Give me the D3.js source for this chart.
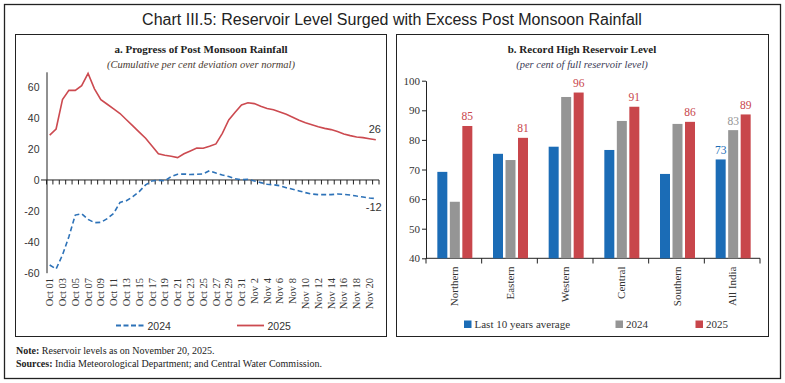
<!DOCTYPE html>
<html><head><meta charset="utf-8">
<script src="https://cdn.jsdelivr.net/npm/d3@7"></script>
<style>body{margin:0;background:#fff}svg{display:block}</style>
</head><body><svg id="c" width="785" height="383"></svg>
<script>
// ---------- Data ----------
const dates = ["Oct 01","Oct 02","Oct 03","Oct 04","Oct 05","Oct 06","Oct 07","Oct 08","Oct 09","Oct 10",
  "Oct 11","Oct 12","Oct 13","Oct 14","Oct 15","Oct 16","Oct 17","Oct 18","Oct 19","Oct 20",
  "Oct 21","Oct 22","Oct 23","Oct 24","Oct 25","Oct 26","Oct 27","Oct 28","Oct 29","Oct 30","Oct 31",
  "Nov 1","Nov 2","Nov 3","Nov 4","Nov 5","Nov 6","Nov 7","Nov 8","Nov 9","Nov 10",
  "Nov 11","Nov 12","Nov 13","Nov 14","Nov 15","Nov 16","Nov 17","Nov 18","Nov 19","Nov 20","Nov 21"];
const rain2024 = [-55,-57.6,-48.5,-36.7,-22.7,-21.8,-25.5,-27.6,-27.4,-25,
  -21.6,-14.5,-13.4,-10.8,-7.5,-3.2,-0.6,-0.2,-0.6,2.2,
  3.7,3.9,3.5,3.7,3.9,6.0,4.5,3.2,2.2,0.8,0.2,
  0.4,-0.6,-1.7,-2.8,-3.1,-3.7,-5,-6,-7.1,-8.2,
  -9.1,-9.5,-9.5,-9.5,-9.1,-9.3,-9.7,-10.4,-11,-11.7,-12];
const rain2025 = [29,33,52,58,58,61,69,59,52,49,
  46,43,39,35,31,27,22,17,16,15.3,
  14.5,17,18.8,20.7,20.5,21.8,23.3,30.2,38.8,43.8,48.5,
  50,49.4,47.7,46.2,45.5,44,42.5,40.6,38.6,37.1,
  35.8,34.5,33.4,32.6,31.3,29.8,28.7,27.8,27.4,26.7,26];
const leftTicks = [-60,-40,-20,0,20,40,60];

const regions = ["Northern","Eastern","Western","Central","Southern","All India"];
const seriesNames = ["Last 10 years average","2024","2025"];
const avg10 = [69.2,75.3,77.7,76.6,68.5,73.4];
const res2024 = [59.1,73.2,94.5,86.4,85.4,83.3];
const res2025 = [84.7,80.7,96.0,91.2,86.1,88.6];
const rightTicks = [40,50,60,70,80,90,100];

// ---------- Styles ----------
const BLUE = "#1b6cb6", GRAY = "#959595", RED = "#c8464b";
const LBLUE = "#2d72b8", LRED = "#cc4a50";
const SERIF = "'Liberation Serif', 'Times New Roman', serif";
const SANS = "'Liberation Sans', Arial, sans-serif";
const NARROW = "'Liberation Sans Narrow', 'Liberation Sans', sans-serif";
const fmt = d => String(Math.round(d));

const svg = d3.select("#c");
svg.append("rect").attr("width",785).attr("height",383).attr("fill","#fff");
// frames
svg.append("rect").attr("x",4.5).attr("y",4.5).attr("width",776).attr("height",374)
  .attr("fill","none").attr("stroke","#222").attr("stroke-width",1.3);
svg.append("rect").attr("x",15.5).attr("y",34.5).attr("width",371).attr("height",302)
  .attr("fill","none").attr("stroke","#222").attr("stroke-width",1);
svg.append("rect").attr("x",396.5).attr("y",34.5).attr("width",372).attr("height",302)
  .attr("fill","none").attr("stroke","#222").attr("stroke-width",1);

svg.append("text").attr("x",392).attr("y",25).attr("text-anchor","middle")
  .attr("font-family",NARROW).attr("font-size",16).attr("fill","#222")
  .text("Chart III.5: Reservoir Level Surged with Excess Post Monsoon Rainfall");

// ---------- Left panel ----------
const L = svg.append("g");
L.append("text").attr("x",201).attr("y",53).attr("text-anchor","middle")
  .attr("font-family",SERIF).attr("font-weight","bold").attr("font-size",11).attr("fill","#222")
  .text("a. Progress of Post Monsoon Rainfall");
L.append("text").attr("x",201).attr("y",67.5).attr("text-anchor","middle")
  .attr("font-family",SERIF).attr("font-style","italic").attr("font-size",10.5).attr("fill","#4a3a30")
  .text("(Cumulative per cent deviation over normal)");

const xL = d3.scaleBand().domain(dates).range([46.5,379]).padding(0);
const yL = d3.scaleLinear().domain([-60,70]).range([272.7,71.8]);
const bw = xL.bandwidth();

const yAxL = L.append("g").attr("transform","translate(46.5,0)")
  .call(d3.axisLeft(yL).tickValues(leftTicks).tickSize(0).tickPadding(7).tickFormat(fmt));
yAxL.select(".domain").attr("stroke","#222");
yAxL.selectAll("text").attr("font-family",SANS).attr("font-size",10.5).attr("fill","#333");

// x axis at zero
const y0 = yL(0);
L.append("line").attr("x1",41).attr("x2",379).attr("y1",y0).attr("y2",y0).attr("stroke","#222");
L.append("g").selectAll("line").data(dates.concat(["end"])).join("line")
  .attr("x1",(d,i)=> i<dates.length ? xL(d) : xL(dates[dates.length-1])+bw)
  .attr("x2",(d,i)=> i<dates.length ? xL(d) : xL(dates[dates.length-1])+bw)
  .attr("y1",y0).attr("y2",y0+4.5).attr("stroke","#222").attr("stroke-width",1);
L.append("g").selectAll("text").data(dates.filter((d,i)=>i%2===0)).join("text")
  .attr("transform",d=>`translate(${xL(d)+bw/2+3.6},278) rotate(-90)`)
  .attr("text-anchor","end").attr("font-family",SERIF).attr("font-size",10.5).attr("fill","#333")
  .text(d=>d);

const line = d3.line().x((d,i)=>xL(dates[i])+bw/2).y(d=>yL(d));
L.append("path").datum(rain2025).attr("d",line).attr("fill","none")
  .attr("stroke",LRED).attr("stroke-width",1.6);
L.append("path").datum(rain2024).attr("d",line).attr("fill","none")
  .attr("stroke",LBLUE).attr("stroke-width",1.6).attr("stroke-dasharray","5,3");

const lastX = xL(dates[dates.length-1])+bw/2;
L.append("text").attr("x",lastX-1).attr("y",yL(rain2025[rain2025.length-1])-6.5)
  .attr("text-anchor","middle").attr("font-family",SANS).attr("font-size",11).attr("fill","#333")
  .text(fmt(rain2025[rain2025.length-1]));
L.append("text").attr("x",lastX-2).attr("y",yL(rain2024[rain2024.length-1])+12.5)
  .attr("text-anchor","middle").attr("font-family",SANS).attr("font-size",11).attr("fill","#333")
  .text(fmt(rain2024[rain2024.length-1]));

// left legend
L.append("line").attr("x1",116).attr("x2",144).attr("y1",325.5).attr("y2",325.5)
  .attr("stroke",LBLUE).attr("stroke-width",1.8).attr("stroke-dasharray","5,2.5");
L.append("text").attr("x",147.5).attr("y",329.5).attr("font-family",SANS).attr("font-size",10.5).attr("fill","#333").text("2024");
L.append("line").attr("x1",237).attr("x2",264).attr("y1",325.5).attr("y2",325.5)
  .attr("stroke",LRED).attr("stroke-width",1.8);
L.append("text").attr("x",267.5).attr("y",329.5).attr("font-family",SANS).attr("font-size",10.5).attr("fill","#333").text("2025");

// ---------- Right panel ----------
const R = svg.append("g");
R.append("text").attr("x",582).attr("y",53).attr("text-anchor","middle")
  .attr("font-family",SERIF).attr("font-weight","bold").attr("font-size",11).attr("fill","#222")
  .text("b. Record High Reservoir Level");
R.append("text").attr("x",582).attr("y",67.5).attr("text-anchor","middle")
  .attr("font-family",SERIF).attr("font-style","italic").attr("font-size",10.5).attr("fill","#3a3a55")
  .text("(per cent of full reservoir level)");

const x0 = d3.scaleBand().domain(regions).range([426,760]).padding(0);
const x1 = d3.scaleBand().domain(seriesNames).range([-17.5,17.5]).paddingInner(0.2).paddingOuter(0);
const yR = d3.scaleLinear().domain([40,100]).range([258.3,80.7]);
const colors = d3.scaleOrdinal().domain(seriesNames).range([BLUE,GRAY,RED]);

const yAxR = R.append("g").attr("transform","translate(426,0)")
  .call(d3.axisLeft(yR).tickValues(rightTicks).tickSize(4).tickSizeOuter(0).tickPadding(2));
yAxR.select(".domain").attr("stroke","#222");
yAxR.selectAll(".tick line").attr("stroke","#222");
yAxR.selectAll("text").attr("font-family",SERIF).attr("font-size",11).attr("fill","#333");

R.append("line").attr("x1",426).attr("x2",760).attr("y1",258.3).attr("y2",258.3).attr("stroke","#222");
R.append("g").selectAll("line").data(regions.concat(["end"])).join("line")
  .attr("x1",(d,i)=> i<regions.length ? x0(d) : 760).attr("x2",(d,i)=> i<regions.length ? x0(d) : 760)
  .attr("y1",258.3).attr("y2",263.5).attr("stroke","#222");

const table = regions.map((r,i)=>({region:r, vals:[avg10[i],res2024[i],res2025[i]]}));
const cx = r => x0(r)+x0.bandwidth()/2+1;
const groups = R.append("g").selectAll("g").data(table).join("g")
  .attr("transform",d=>`translate(${cx(d.region)},0)`);
groups.selectAll("rect").data(d=>d.vals.map((v,j)=>({s:seriesNames[j],v}))).join("rect")
  .attr("x",d=>x1(d.s)).attr("width",x1.bandwidth())
  .attr("y",d=>yR(d.v)).attr("height",d=>yR(40)-yR(d.v)).attr("fill",d=>colors(d.s));
groups.selectAll("text.v").data(d=>d.vals.map((v,j)=>({s:seriesNames[j],v,r:d.region})))
  .join("text").attr("class","v")
  .filter(d=>d.s==="2025" || d.r==="All India")
  .attr("x",d=>x1(d.s)+x1.bandwidth()/2).attr("y",d=>yR(d.v)-5.5)
  .attr("text-anchor","middle").attr("font-family",SERIF).attr("font-size",11.5)
  .attr("fill",d=>colors(d.s)).text(d=>fmt(d.v));

R.append("g").selectAll("text").data(regions).join("text")
  .attr("transform",d=>`translate(${cx(d)+3},266.5) rotate(-90)`)
  .attr("text-anchor","end").attr("font-family",SERIF).attr("font-size",11).attr("fill","#333")
  .text(d=>d);

// right legend
const legX = [464,615.5,695.5];
seriesNames.forEach((s,i)=>{
  R.append("rect").attr("x",legX[i]).attr("y",320.5).attr("width",7.5).attr("height",7.5).attr("fill",colors(s));
  R.append("text").attr("x",legX[i]+10.5).attr("y",328).attr("font-family",SERIF).attr("font-size",11)
    .attr("fill","#333").text(s);
});

// ---------- Notes ----------
const n1 = svg.append("text").attr("x",16).attr("y",354).attr("font-family",SERIF).attr("font-size",10).attr("fill","#222");
n1.append("tspan").attr("font-weight","bold").text("Note:");
n1.append("tspan").text(" Reservoir levels as on November 20, 2025.");
const n2 = svg.append("text").attr("x",16).attr("y",367).attr("font-family",SERIF).attr("font-size",10).attr("fill","#222");
n2.append("tspan").attr("font-weight","bold").text("Sources:");
n2.append("tspan").text(" India Meteorological Department; and Central Water Commission.");
</script>
</body></html>
